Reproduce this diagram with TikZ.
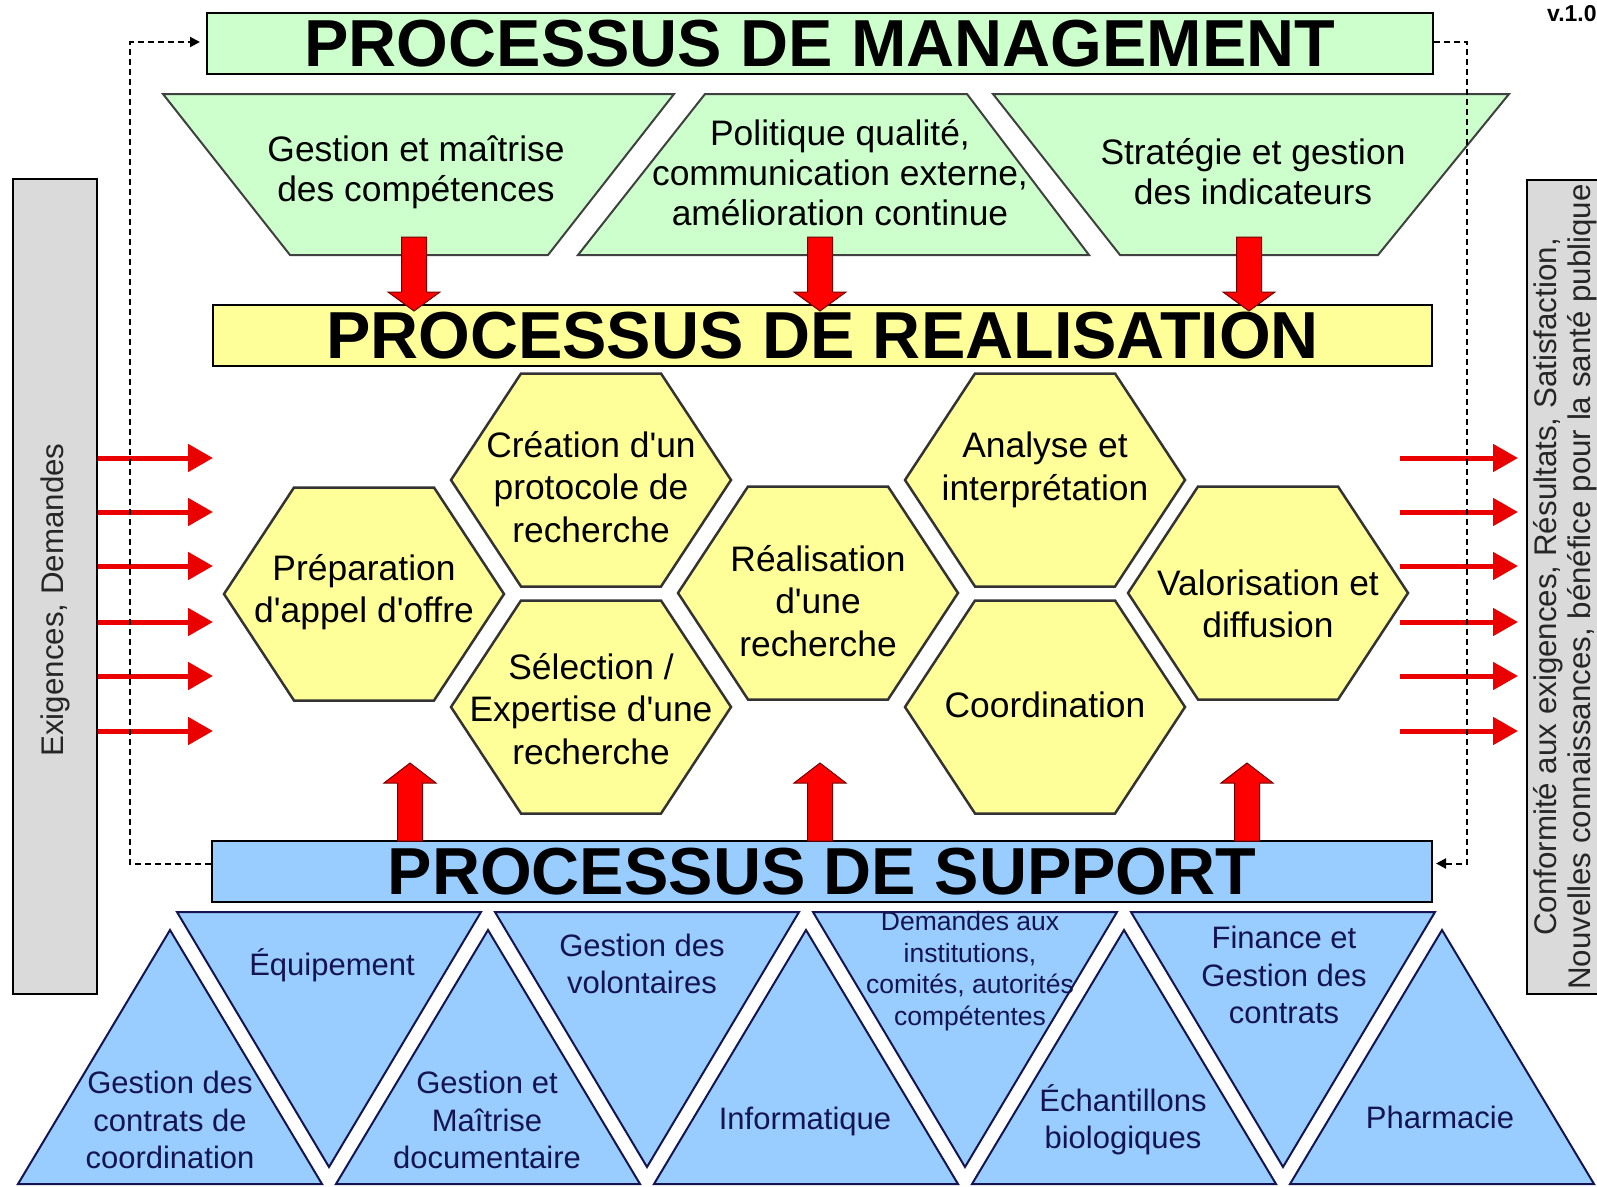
\documentclass[tikz,border=0pt]{standalone}
\usepackage{fontspec}
\setmainfont{Liberation Sans}
\usetikzlibrary{arrows.meta,calc}
\definecolor{mgreen}{RGB}{204,255,204}
\definecolor{ryellow}{RGB}{255,255,153}
\definecolor{sblue}{RGB}{153,204,255}
\definecolor{sgrey}{RGB}{218,218,218}
\definecolor{navy}{RGB}{20,20,80}
\definecolor{arrred}{RGB}{235,0,0}
\newcommand\ap{\textquotesingle}
\newcommand\hexpath[2]{\filldraw[hexa] ({#1-140},#2) -- ({#1-70},{#2-106.5}) -- ({#1+70},{#2-106.5}) -- ({#1+140},#2) -- ({#1+70},{#2+106.5}) -- ({#1-70},{#2+106.5}) -- cycle;}
\newcommand\blkdown[3]{\filldraw[blockarrow] ({#1-12.5},#2) -- ({#1+12.5},#2) -- ({#1+12.5},{#3-19}) -- ({#1+26},{#3-19}) -- (#1,#3) -- ({#1-26},{#3-19}) -- ({#1-12.5},{#3-19}) -- cycle;}
\newcommand\blkup[3]{\filldraw[blockarrow] ({#1-12.5},#2) -- ({#1+12.5},#2) -- ({#1+12.5},{#3+20}) -- ({#1+26},{#3+20}) -- (#1,#3) -- ({#1-26},{#3+20}) -- ({#1-12.5},{#3+20}) -- cycle;}
\tikzset{
 titlebox/.style={draw=black, line width=2pt, inner sep=0pt, font=\bfseries\fontsize{66.5}{70}\selectfont},
 trap/.style={fill=mgreen, draw=black!75, line width=2pt},
 traptext/.style={align=center, font=\fontsize{35.4}{40}\selectfont, inner sep=0pt},
 hexa/.style={fill=ryellow, draw=black!80, line width=2.5pt},
 hextext/.style={align=center, font=\fontsize{35.4}{42.5}\selectfont, inner sep=0pt},
 tri/.style={fill=sblue, draw=navy, line width=2pt},
 tritext/.style={align=center, text=navy, font=\fontsize{31}{37.5}\selectfont, inner sep=0pt},
 sidebox/.style={fill=sgrey, draw=black, line width=2pt, inner sep=0pt},
 sidetext/.style={rotate=90, align=center, text=black!85, font=\fontsize{31.3}{34}\selectfont, inner sep=0pt},
 sidearrow/.style={draw=arrred, line width=5pt, -{Triangle[length=25pt,width=27pt]}},
 blockarrow/.style={fill=red, draw=black!55!red, line width=1pt},
 dashline/.style={draw=black, line width=2pt, dash pattern=on 6pt off 4pt, -{Triangle[length=10pt,width=10pt]}},
}
\begin{document}
\begin{tikzpicture}[x=1pt,y=-1pt]
\useasboundingbox (0,0) rectangle (1597,1186);
\fill[white] (0,0) rectangle (1597,1186);
\clip (0,0) rectangle (1597,1186);

% side boxes
\node[sidebox, minimum width=84pt, minimum height=815pt] (Lbox) at (55,586.5) {};
\node[sidebox, minimum width=90pt, minimum height=814pt, anchor=north west] (Rbox) at (1526,179) {};
\node[sidetext] (Ltext) at (55,600) {Exigences, Demandes};
\node[sidetext] (Rtext) at (1565,587) {Conformité aux exigences, Résultats, Satisfaction,\\Nouvelles connaissances, bénéfice pour la santé publique};

% version
\node[anchor=west, inner sep=0pt, font=\bfseries\fontsize{23}{23}\selectfont] (ver) at (1547,14) {v.1.0};

% title boxes
\node[titlebox, fill=mgreen, minimum width=1226pt, minimum height=61pt] (mgmt) at (820,43.5) {PROCESSUS DE MANAGEMENT};
\node[titlebox, fill=ryellow, minimum width=1219pt, minimum height=61pt] (real) at (822.5,335.5) {PROCESSUS DE REALISATION};
\node[titlebox, fill=sblue, minimum width=1220pt, minimum height=61pt] (support) at (822,871.5) {PROCESSUS DE SUPPORT};

% management trapezoids
\filldraw[trap] (163,94) -- (674,94) -- (548,255) -- (290,255) -- cycle;
\filldraw[trap] (705,94) -- (967,94) -- (1089,255) -- (578,255) -- cycle;
\filldraw[trap] (993,94) -- (1509,94) -- (1378,255) -- (1120,255) -- cycle;
\node[traptext] (m1) at (416,172) {Gestion et maîtrise\\des compétences};
\node[traptext] (m2) at (840,173) {Politique qualité,\\communication externe,\\amélioration continue};
\node[traptext] (m3) at (1253,172) {Stratégie et gestion\\des indicateurs};

% hexagons
\hexpath{364}{594}
\hexpath{591}{480}
\hexpath{591}{707}
\hexpath{818}{593}
\hexpath{1045}{480}
\hexpath{1045}{707}
\hexpath{1268}{593}
\node[hextext] (h1) at (364,592) {Préparation\\d\ap appel d\ap offre};
\node[hextext] (h2) at (591,487) {Création d\ap un\\protocole de\\recherche};
\node[hextext] (h3) at (591,709) {Sélection /\\Expertise d\ap une\\recherche};
\node[hextext] (h4) at (818,601) {Réalisation\\d\ap une\\recherche};
\node[hextext] (h5) at (1045,470) {Analyse et\\interprétation};
\node[hextext] (h6) at (1045,705) {Coordination};
\node[hextext] (h7) at (1268,604) {Valorisation et\\diffusion};

% support triangles
\foreach \i in {0,...,4} {
  \pgfmathsetmacro\u{170+318*\i}
  \filldraw[tri] (\u,930) -- ({\u+152},1184) -- ({\u-152},1184) -- cycle;
}
\foreach \i in {0,...,3} {
  \pgfmathsetmacro\d{329+318*\i}
  \filldraw[tri] ({\d-152},912) -- ({\d+152},912) -- (\d,1167) -- cycle;
}
\node[tritext] (s1) at (170,1120) {Gestion des\\contrats de\\coordination};
\node[tritext] (s2) at (332,965) {Équipement};
\node[tritext] (s3) at (487,1120) {Gestion et\\Maîtrise\\documentaire};
\node[tritext] (s4) at (642,964) {Gestion des\\volontaires};
\node[tritext] (s5) at (805,1121) {Informatique};
\node[tritext, font=\fontsize{26.5}{31.5}\selectfont] (s6) at (970,971) {Demandes aux\\institutions,\\comités, autorités\\compétentes};
\node[tritext] (s7) at (1123,1120) {Échantillons\\biologiques};
\node[tritext] (s8) at (1284,975) {Finance et\\Gestion des\\contrats};
\node[tritext] (s9) at (1440,1117) {Pharmacie};

% block arrows
\blkdown{414}{237}{311}
\blkdown{820}{237}{311}
\blkdown{1249}{237}{311}
\blkup{410}{841}{763}
\blkup{820}{841}{763}
\blkup{1247}{841}{763}

% side arrows
\foreach \y [count=\i] in {458,512,566,622,676,731} {
  \coordinate (lin\i) at (213,\y);
  \draw[sidearrow] (Lbox.east |- lin\i) -- (lin\i);
  \coordinate (rout\i) at (1400,\y);
  \draw[sidearrow, shorten >=8pt] (rout\i) -- (Rbox.west |- rout\i);
}

% dashed feedback loops
\coordinate (dlb) at (130,863.5);
\coordinate (dlt) at (130,42);
\draw[dashline, shorten >=6pt] (support.west |- dlb) -- (dlb) -- (dlt) -- (mgmt.west |- dlt);
\coordinate (drt) at (1467,42);
\coordinate (drb) at (1467,863.5);
\draw[dashline, shorten >=3pt] (mgmt.east |- drt) -- (drt) -- (drb) -- (support.east |- drb);
\end{tikzpicture}
\end{document}
